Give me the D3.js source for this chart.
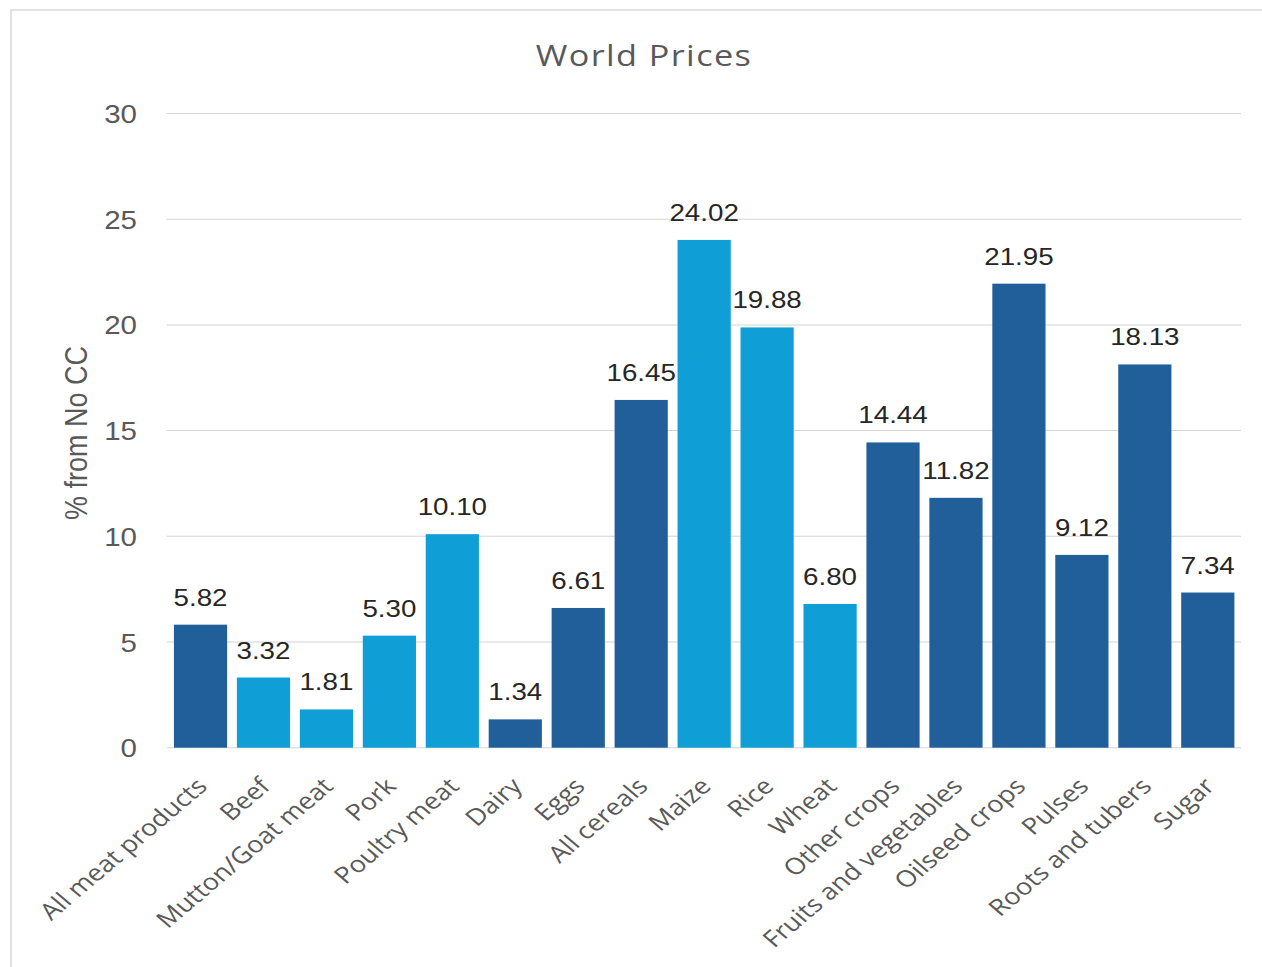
<!DOCTYPE html>
<html>
<head>
<meta charset="utf-8">
<script src="https://cdn.jsdelivr.net/npm/d3@7"></script>
<style>
  html, body { margin: 0; padding: 0; background: #fff; }
  svg { display: block; }
</style>
</head>
<body>
<svg id="chart" width="1262" height="967"></svg>
<script>
// World price change by commodity (% from No CC)
const categories = [
  "All meat products", "Beef", "Mutton/Goat meat", "Pork", "Poultry meat",
  "Dairy", "Eggs", "All cereals", "Maize", "Rice", "Wheat", "Other crops",
  "Fruits and vegetables", "Oilseed crops", "Pulses", "Roots and tubers", "Sugar"
];
const values = [5.82, 3.32, 1.81, 5.30, 10.10, 1.34, 6.61, 16.45, 24.02, 19.88,
                6.80, 14.44, 11.82, 21.95, 9.12, 18.13, 7.34];
// "agg" = aggregate / stand-alone commodity, "sub" = sub-commodity
const groups = ["agg", "sub", "sub", "sub", "sub", "agg", "agg", "agg", "sub", "sub",
                "sub", "agg", "agg", "agg", "agg", "agg", "agg"];
const yTicks = [0, 5, 10, 15, 20, 25, 30];

const W = 1262, H = 967;
const sx = 1.18;               // horizontal stretch of the whole drawing
const svg = d3.select("#chart");

// outer chart frame
svg.append("rect")
  .attr("x", 11).attr("y", 10)
  .attr("width", W).attr("height", H + 20)
  .attr("fill", "none").attr("stroke", "#d9d9d9").attr("stroke-width", 1.5);

const g = svg.append("g").attr("transform", `scale(${sx},1)`);

const x = d3.scaleBand()
  .domain(categories)
  .range([169 / sx, 1239.3 / sx])
  .paddingInner(0.155)
  .paddingOuter(0.078);

const y = d3.scaleLinear().domain([0, 30]).range([747.7, 113.5]);

const color = d3.scaleOrdinal().domain(["agg", "sub"]).range(["#215F9A", "#0F9ED5"]);

const gridX0 = 166.7 / sx, gridX1 = 1241 / sx;

// gridlines
g.append("g").selectAll("line")
  .data(yTicks)
  .join("line")
  .attr("x1", gridX0).attr("x2", gridX1)
  .attr("y1", d => y(d)).attr("y2", d => y(d))
  .attr("stroke", "#d4d4d4").attr("stroke-width", 1);

// y axis tick labels
const yAxis = d3.axisLeft(y).tickValues(yTicks).tickSize(0).tickPadding(0);
const ya = g.append("g")
  .attr("transform", `translate(${137 / sx},0)`)
  .call(yAxis);
ya.select(".domain").remove();
ya.selectAll("text")
  .attr("font-family", "Liberation Sans, Arial, sans-serif")
  .attr("font-size", 25)
  .attr("fill", "#595959")
  .attr("dy", "0.36em");

// bars
g.append("g").selectAll("rect")
  .data(categories)
  .join("rect")
  .attr("x", d => x(d))
  .attr("width", x.bandwidth())
  .attr("y", (d, i) => y(values[i]))
  .attr("height", (d, i) => y(0) - y(values[i]))
  .attr("fill", (d, i) => color(groups[i]));

// value labels
g.append("g").selectAll("text")
  .data(categories)
  .join("text")
  .attr("x", d => x(d) + x.bandwidth() / 2)
  .attr("y", (d, i) => y(values[i]) - 19)
  .attr("text-anchor", "middle")
  .attr("font-family", "Liberation Sans, Arial, sans-serif")
  .attr("font-size", 23.5)
  .attr("fill", "#262626")
  .text((d, i) => values[i].toFixed(2));

// category labels
const xa = g.append("g")
  .attr("transform", `translate(0,${y(0)})`)
  .call(d3.axisBottom(x).tickSize(0).tickPadding(0));
xa.select(".domain").remove();
xa.selectAll("text")
  .attr("font-family", "Open Sans, sans-serif")
  .attr("font-size", 23)
  .attr("fill", "#595959")
  .attr("text-anchor", "end")
  .attr("dy", 0)
  .attr("transform", "translate(7,40) rotate(-45)");

// y axis title
g.append("text")
  .attr("transform", `translate(${87 / sx},${433}) rotate(-90)`)
  .attr("text-anchor", "middle")
  .attr("font-family", "Liberation Sans, Arial, sans-serif")
  .attr("font-size", 27)
  .attr("fill", "#595959")
  .text("% from No CC");

// title
g.append("text")
  .attr("x", 644 / sx)
  .attr("y", 66)
  .attr("text-anchor", "middle")
  .attr("font-family", "Open Sans, sans-serif")
  .attr("font-size", 29)
  .attr("font-weight", 500)
  .attr("letter-spacing", 1.2)
  .attr("fill", "#595959")
  .text("World Prices");
</script>
</body>
</html>
